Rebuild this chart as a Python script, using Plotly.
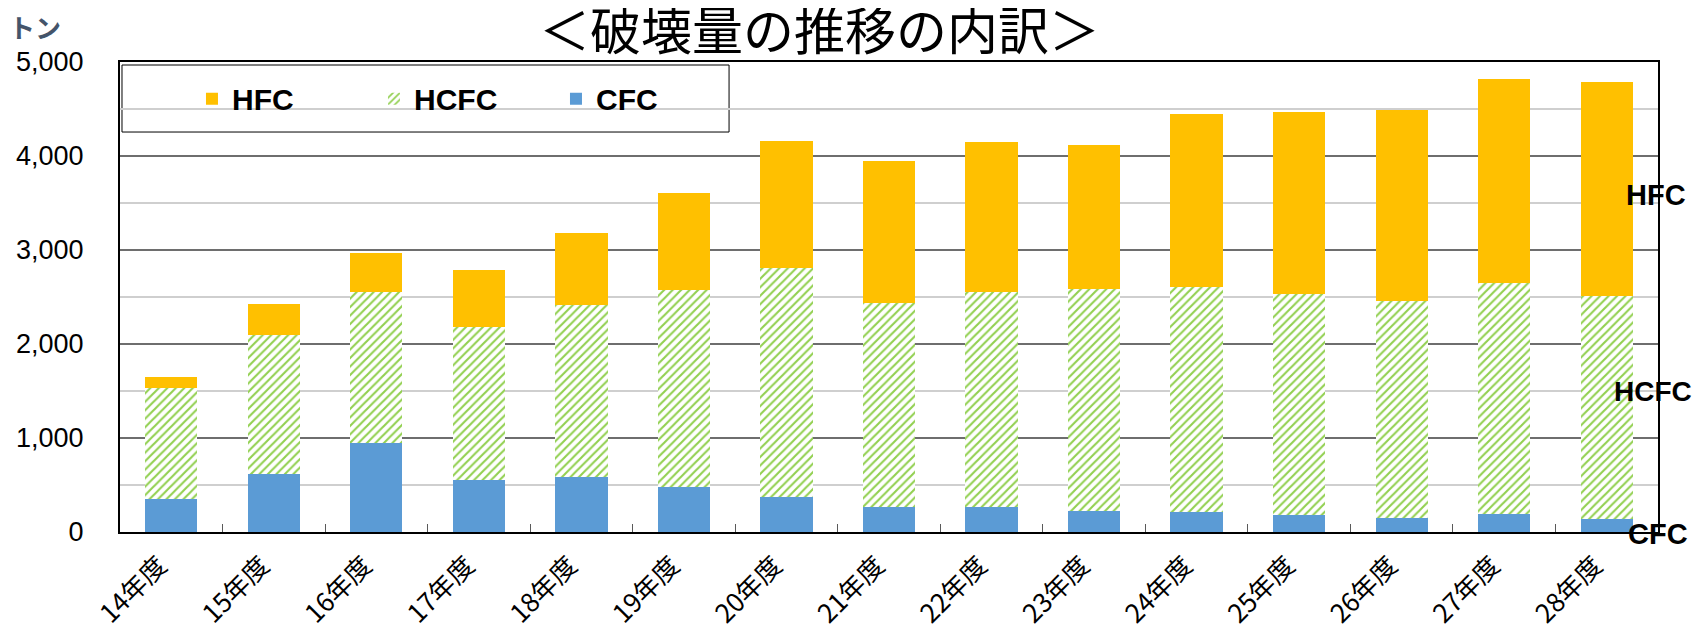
import plotly.graph_objects as go

categories = ["14年度", "15年度", "16年度", "17年度", "18年度", "19年度", "20年度", "21年度",
              "22年度", "23年度", "24年度", "25年度", "26年度", "27年度", "28年度"]
cfc = [353, 622, 951, 555, 587, 481, 373, 265, 265, 223, 212, 180, 152, 190, 141]
hcfc = [1184, 1470, 1607, 1625, 1826, 2091, 2440, 2170, 2293, 2364, 2396, 2347, 2307, 2464, 2372]
hfc = [113, 336, 414, 608, 767, 1034, 1350, 1508, 1594, 1526, 1834, 1943, 2033, 2163, 2270]
y_ticks = [0, 1000, 2000, 3000, 4000, 5000]
y_tick_labels = ["0", "1,000", "2,000", "3,000", "4,000", "5,000"]

NARROW = "Liberation Sans, Arial, sans-serif"
CJK = "Noto Sans CJK JP, sans-serif"

fig = go.Figure()
fig.add_trace(go.Bar(x=categories, y=cfc, name="CFC", marker=dict(color="#5B9BD5", line=dict(width=0))))
fig.add_trace(go.Bar(x=categories, y=hcfc, name="HCFC",
                     marker=dict(color="white", line=dict(width=0),
                                 pattern=dict(shape="/", fgcolor="#92D050", bgcolor="white",
                                              size=6, solidity=0.35, fillmode="replace"))))
fig.add_trace(go.Bar(x=categories, y=hfc, name="HFC", marker=dict(color="#FFC000", line=dict(width=0))))

fig.update_layout(
    width=1699, height=626,
    margin=dict(l=112, r=49, t=54, b=102, autoexpand=False),
    barmode="stack", bargap=0.49,
    plot_bgcolor="white", paper_bgcolor="white",
    showlegend=True,
    legend=dict(orientation="h", traceorder="reversed",
                x=0.0468, xanchor="left", y=0.922, yanchor="middle",
                font=dict(family=NARROW, size=30, color="black", weight="bold"),
                entrywidth=137, entrywidthmode="pixels",
                bgcolor="rgba(0,0,0,0)", borderwidth=0),
    xaxis=dict(showline=True, linecolor="black", linewidth=2, mirror=True, automargin=False,
               ticks="inside", tickson="boundaries", ticklen=8, tickcolor="#595959", tickwidth=1,
               tickangle=-45, tickfont=dict(family=CJK, size=26, color="black"),
               ticklabelshift=-12, ticklabelstandoff=6,
               showgrid=False),
    yaxis=dict(range=[0, 5000], tickvals=y_ticks, ticktext=y_tick_labels, automargin=False,
               showline=True, linecolor="black", linewidth=2, mirror=True,
               gridcolor="#6e6e6e", gridwidth=2,
               minor=dict(dtick=500, showgrid=True, gridcolor="#cfcfcf", gridwidth=2),
               ticks="", ticklabelstandoff=29,
               tickfont=dict(family=NARROW, size=27, color="black"), zeroline=False),
    shapes=[dict(type="rect", xref="paper", yref="paper", x0=0.0013, x1=0.396, y0=0.851, y1=0.9936,
                 line=dict(color="black", width=1), fillcolor="white", layer="below")],
    annotations=[
        dict(text="＜破壊量の推移の内訳＞", xref="paper", yref="paper", x=(819 - 120) / 1538, y=1.0,
             yshift=34, xanchor="center", yanchor="middle", showarrow=False,
             font=dict(family=CJK, size=51, color="black")),
        dict(text="トン", xref="paper", yref="paper", x=-0.055, y=1.0, yshift=36,
             xanchor="center", yanchor="middle", showarrow=False,
             font=dict(family=CJK, size=26, color="#44546A", weight="bold")),
        dict(text="HFC", xref="paper", yref="paper", x=0.999, y=3584 / 5000, xanchor="center", yanchor="middle",
             showarrow=False, font=dict(family=NARROW, size=29, color="black", weight="bold")),
        dict(text="HCFC", xref="paper", yref="paper", x=0.997, y=1495 / 5000, xanchor="center", yanchor="middle",
             showarrow=False, font=dict(family=NARROW, size=28, color="black", weight="bold")),
        dict(text="CFC", xref="paper", yref="paper", x=1.0, y=-21 / 5000, xanchor="center", yanchor="middle",
             showarrow=False, font=dict(family=NARROW, size=29, color="black", weight="bold")),
    ],
)

fig.write_html("out.html")
